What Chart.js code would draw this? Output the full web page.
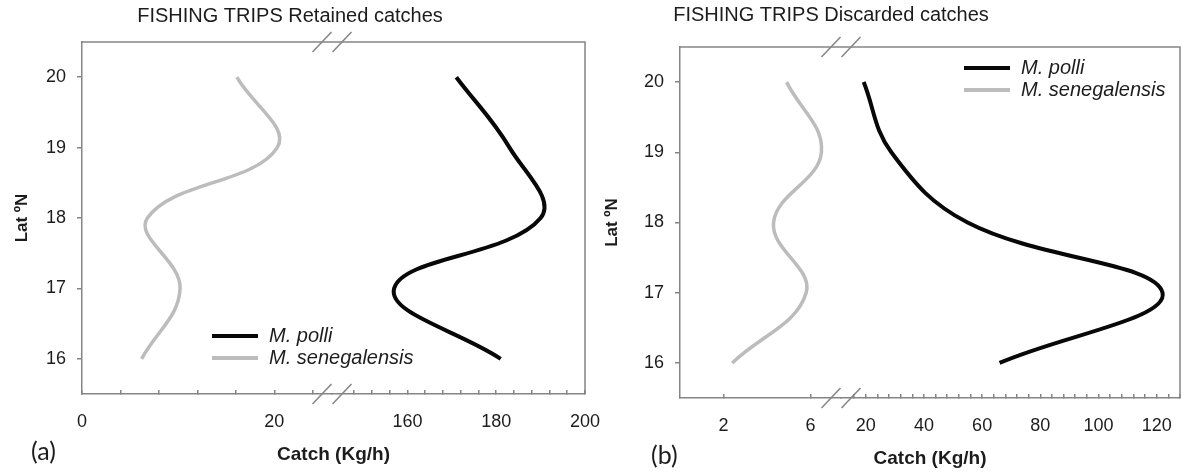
<!DOCTYPE html>
<html>
<head>
<meta charset="utf-8">
<script src="https://cdn.jsdelivr.net/npm/chart.js@4.4.1/dist/chart.umd.min.js"></script>
<style>
    html, body { margin: 0; padding: 0; background: #fff; }
    body { width: 1183px; height: 475px; position: relative; overflow: hidden; }
    .panel { position: absolute; top: 0; height: 475px; }
    #panelA { left: 0; width: 612px; }
    #panelB { left: 590px; width: 593px; }
</style>
</head>
<body>
<div class="panel" id="panelA"><canvas id="retained"></canvas></div>
<div class="panel" id="panelB"><canvas id="discarded"></canvas></div>
<script>
// Latitude of each sampling band (ºN)
const latitudes = [16, 17, 18, 19, 20];
const latTicks = [16, 17, 18, 19, 20];

// Catch rates (Kg/h) per latitude, same order as latitudes
const retainedPolli = [181, 157, 190, 183, 171];
const retainedSenegalensis = [6.2, 10.2, 6.8, 20.3, 16.1];
const discardedPolli = [66, 122, 55, 28.8, 19.3];
const discardedSenegalensis = [2.4, 5.8, 4.3, 6.5, 4.9];

// Broken catch axes: a low part and a high part on each panel
const retainedLowTicks = [0, 4, 8, 12, 16, 20, 24];
const retainedHighTicks = [148, 152, 156, 160, 164, 168, 172, 176, 180, 184, 188, 192, 196, 200];
const retainedTickLabels = [0, 20, 160, 180, 200];
const discardedLowTicks = [2, 6];
const discardedHighTicks = [16, 20, 24, 28, 32, 36, 40, 44, 48, 52, 56, 60, 64, 68, 72, 76, 80, 84, 88, 92, 96, 100, 104, 108, 112, 116, 120, 124, 128];
const discardedTickLabels = [2, 6, 20, 40, 60, 80, 100, 120];

const FONT = '"Liberation Sans", Arial, Helvetica, sans-serif';
const axisColor = '#858585';
const textColor = '#1c1c1c';
const black = '#080808';
const grey = '#bcbcbc';

function series(values) {
    return values.map((v, i) => ({ x: v, y: latitudes[i] }));
}

// Frame, axis breaks, titles and in-plot legend
const panelDecor = {
    id: 'panelDecor',
    afterDraw(chart, args, opts) {
        const { ctx, chartArea: area, scales } = chart;
        ctx.save();
        ctx.strokeStyle = axisColor;
        ctx.lineWidth = 1.5;
        ctx.beginPath();
        ctx.moveTo(area.left, area.top);
        ctx.lineTo(area.right, area.top);
        ctx.lineTo(area.right, area.bottom);
        ctx.stroke();

        const bx = scales.xLow.right;
        [area.top, area.bottom].forEach(y => {
            [-10, 10].forEach(dx => {
                ctx.beginPath();
                ctx.moveTo(bx + dx - 9.5, y + 10);
                ctx.lineTo(bx + dx + 9.5, y - 10);
                ctx.stroke();
            });
        });

        ctx.fillStyle = textColor;
        ctx.textBaseline = 'middle';
        ctx.textAlign = 'center';
        ctx.font = '20px ' + FONT;
        ctx.fillText(opts.title, opts.titleX, opts.titleY);

        ctx.font = 'bold 19px ' + FONT;
        ctx.fillText('Catch (Kg/h)', (area.left + area.right) / 2, area.bottom + 61);

        ctx.textAlign = 'left';
        ctx.font = '25px Lato, "Open Sans", sans-serif';
        ctx.fillText(opts.letter, opts.letterX, opts.letterY);

        ctx.font = 'italic 20px ' + FONT;
        chart.data.datasets.forEach((ds, i) => {
            const y = opts.legendY + i * 22;
            ctx.strokeStyle = ds.borderColor;
            ctx.lineWidth = 4;
            ctx.beginPath();
            ctx.moveTo(opts.legendX, y);
            ctx.lineTo(opts.legendX + 46, y);
            ctx.stroke();
            ctx.fillStyle = textColor;
            ctx.fillText(ds.label, opts.legendX + 57, y);
        });
        ctx.restore();
    },
};

function catchAxis(min, max, weight, ticks, labels, height) {
    return {
        type: 'linear',
        position: 'bottom',
        stack: 'catch',
        stackWeight: weight,
        min,
        max,
        afterBuildTicks: scale => { scale.ticks = ticks.map(value => ({ value })); },
        afterFit: scale => {
            scale.height = height;
            // end labels may hang past the frame; keep the plot box fixed
            scale.paddingLeft = 0;
            scale.paddingRight = 0;
        },
        border: { color: axisColor, width: 1.5 },
        grid: { drawOnChartArea: false, tickLength: -4, color: axisColor, lineWidth: 1.5 },
        ticks: {
            autoSkip: false,
            maxRotation: 0,
            padding: 21,
            color: textColor,
            font: { family: FONT, size: 18 },
            callback: value => (labels.includes(value) ? String(value) : ''),
        },
    };
}

function latAxis(width) {
    return {
        type: 'linear',
        position: 'left',
        min: 15.5,
        max: 20.5,
        afterBuildTicks: scale => { scale.ticks = latTicks.map(value => ({ value })); },
        afterFit: scale => {
            scale.width = width;
            scale.paddingTop = 0;
            scale.paddingBottom = 0;
        },
        border: { color: axisColor, width: 1.5 },
        grid: { drawOnChartArea: false, tickLength: 5, color: axisColor, lineWidth: 1.5 },
        title: {
            display: true,
            text: 'Lat ºN',
            color: textColor,
            font: { family: FONT, size: 17, weight: 'bold' },
            padding: { top: 12, bottom: 0 },
        },
        ticks: {
            padding: 11,
            color: textColor,
            font: { family: FONT, size: 18 },
        },
    };
}

function makeChart(canvasId, cfg) {
    return new Chart(document.getElementById(canvasId), {
        type: 'line',
        data: {
            datasets: [
                {
                    label: 'M. polli',
                    data: series(cfg.polli),
                    xAxisID: 'xHigh',
                    yAxisID: 'y',
                    borderColor: black,
                    borderWidth: 4,
                },
                {
                    label: 'M. senegalensis',
                    data: series(cfg.senegalensis),
                    xAxisID: 'xLow',
                    yAxisID: 'y',
                    borderColor: grey,
                    borderWidth: 3.5,
                },
            ],
        },
        options: {
            responsive: true,
            maintainAspectRatio: false,
            animation: false,
            layout: { padding: cfg.padding },
            elements: {
                point: { radius: 0, hoverRadius: 0 },
                line: { tension: 0.4, borderCapStyle: 'butt', fill: false },
            },
            plugins: {
                legend: { display: false },
                tooltip: { enabled: false },
                panelDecor: cfg.decor,
            },
            scales: {
                xLow: catchAxis(cfg.low[0], cfg.low[1], cfg.low[2], cfg.lowTicks, cfg.labels, cfg.xHeight),
                xHigh: catchAxis(cfg.high[0], cfg.high[1], cfg.high[2], cfg.highTicks, cfg.labels, cfg.xHeight),
                y: latAxis(cfg.yWidth),
            },
        },
        plugins: [panelDecor],
    });
}

makeChart('retained', {
    polli: retainedPolli,
    senegalensis: retainedSenegalensis,
    low: [0, 26, 250],
    high: [143, 200, 253],
    lowTicks: retainedLowTicks,
    highTicks: retainedHighTicks,
    labels: retainedTickLabels,
    padding: { top: 42, left: 0, right: 27, bottom: 0 },
    xHeight: 81,
    yWidth: 82,
    decor: {
        title: 'FISHING TRIPS Retained catches',
        titleX: 290, titleY: 16,
        letter: '(a)', letterX: 31, letterY: 452,
        legendX: 212, legendY: 336,
    },
});

makeChart('discarded', {
    polli: discardedPolli,
    senegalensis: discardedSenegalensis,
    low: [0, 7.4, 161],
    high: [11.5, 128, 339],
    lowTicks: discardedLowTicks,
    highTicks: discardedHighTicks,
    labels: discardedTickLabels,
    padding: { top: 47, left: 0, right: 3, bottom: 0 },
    xHeight: 77,
    yWidth: 90,
    decor: {
        title: 'FISHING TRIPS Discarded catches',
        titleX: 241, titleY: 15,
        letter: '(b)', letterX: 61, letterY: 456,
        legendX: 374, legendY: 68,
    },
});
</script>
</body>
</html>
